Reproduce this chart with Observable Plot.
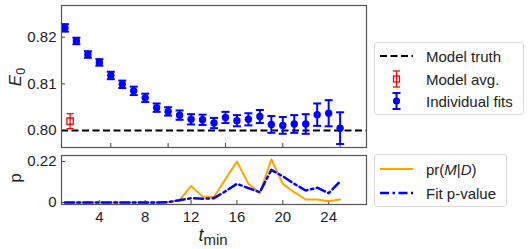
<!DOCTYPE html>
<html>
<head>
<meta charset="utf-8">
<script src="https://cdn.jsdelivr.net/npm/d3@7"></script>
<script src="https://cdn.jsdelivr.net/npm/@observablehq/plot@0.6"></script>
<style>
  html, body { margin: 0; padding: 0; background: #fff; }
  #wrap { position: relative; width: 531px; height: 249px; overflow: hidden;
          font-family: "Liberation Sans", Arial, sans-serif; color: #222; }
  .abs { position: absolute; }
  .rot { transform: translate(-50%, -50%) rotate(-90deg); white-space: nowrap; font-size: 17px; line-height: 1; }
  .xl { transform: translate(-50%, -50%); white-space: nowrap; font-size: 18px; line-height: 1; }
  .sub { font-size: 12.5px; position: relative; top: 4px; }
  .legend { position: absolute; border: 1px solid #d8d8d8; border-radius: 3px; background: #fff; box-sizing: border-box; }
  .entry { position: absolute; left: 0; height: 20px; display: flex; align-items: center; font-size: 15px; white-space: nowrap; }
  .entry svg { display: block; margin-left: 4px; }
  .entry span { position: absolute; left: 51px; }
</style>
</head>
<body>
<div id="wrap">
  <div id="topPanel" class="abs" style="left:0;top:0"></div>
  <div id="botPanel" class="abs" style="left:0;top:150px"></div>
  <div class="abs rot" style="left:15px;top:77px"><i>E</i><span class="sub">0</span></div>
  <div class="abs rot" style="left:15px;top:178px">p</div>
  <div class="abs xl" style="left:213px;top:235px"><i>t</i><span class="sub" style="font-size:15px">min</span></div>

  <div class="legend" style="left:374px;top:42px;width:150px;height:73px">
    <div class="entry" style="top:3px">
      <svg width="38" height="20"><line x1="1" y1="10" x2="34" y2="10" stroke="#000" stroke-width="2" stroke-dasharray="7,3.5"/></svg>
      <span>Model truth</span>
    </div>
    <div class="entry" style="top:26px">
      <svg width="38" height="20"><line x1="17.5" y1="2" x2="17.5" y2="18" stroke="red" stroke-width="1.3"/><line x1="14" y1="2" x2="21" y2="2" stroke="red" stroke-width="1.3"/><line x1="14" y1="18" x2="21" y2="18" stroke="red" stroke-width="1.3"/><rect x="14.5" y="7" width="6" height="6" fill="none" stroke="red" stroke-width="1.3"/></svg>
      <span>Model avg.</span>
    </div>
    <div class="entry" style="top:48px">
      <svg width="38" height="20"><line x1="17.5" y1="2" x2="17.5" y2="18" stroke="blue" stroke-width="2"/><line x1="13.5" y1="2" x2="21.5" y2="2" stroke="blue" stroke-width="2"/><line x1="13.5" y1="18" x2="21.5" y2="18" stroke="blue" stroke-width="2"/><circle cx="17.5" cy="10" r="3.6" fill="blue"/></svg>
      <span>Individual fits</span>
    </div>
  </div>

  <div class="legend" style="left:374px;top:154px;width:133px;height:53px">
    <div class="entry" style="top:4px">
      <svg width="38" height="20"><line x1="1" y1="10" x2="34" y2="10" stroke="orange" stroke-width="2"/></svg>
      <span>pr(<i>M</i>|<i>D</i>)</span>
    </div>
    <div class="entry" style="top:28px">
      <svg width="38" height="20"><line x1="1" y1="10" x2="34" y2="10" stroke="blue" stroke-width="2.5" stroke-dasharray="9,3.5,2.5,3.5"/></svg>
      <span>Fit p-value</span>
    </div>
  </div>
</div>
<script>
// ---- data ----
const tmin = [1,2,3,4,5,6,7,8,9,10,11,12,13,14,15,16,17,18,19,20,21,22,23,24,25];
const E0 = [0.8220,0.8192,0.8163,0.8146,0.8118,0.8099,0.8085,0.8070,0.8049,0.8041,0.8033,0.8024,0.8023,0.8016,0.8028,0.8021,0.8024,0.8030,0.8013,0.8011,0.8014,0.8014,0.8034,0.8037,0.8005];
const E0err = [0.0008,0.0007,0.0007,0.0007,0.0008,0.0008,0.0009,0.0009,0.0009,0.0009,0.0010,0.0011,0.0011,0.0011,0.0012,0.0012,0.0013,0.0014,0.0018,0.0018,0.0019,0.0021,0.0024,0.0028,0.0034];
const modelAvgT = [1.45];
const modelAvg = [0.8020];
const modelAvgErr = [0.0016];
const modelTruth = [0.80];
const prMD = [0,0,0,0,0,0,0,0,0,0.001,0.012,0.088,0.032,0.029,0.125,0.220,0.100,0.050,0.232,0.100,0.055,0.016,0.016,0.006,0.016];
const pValue = [0,0,0,0,0,0,0,0,0,0.002,0.012,0.023,0.020,0.023,0.060,0.100,0.077,0.055,0.175,0.140,0.100,0.064,0.079,0.050,0.113];
const xTicksTop = [5,10,15,20,25];
const xTicksBottom = [4,8,12,16,20,24];
const yTicksTop = [0.80,0.81,0.82];
const yTicksBottom = [0,0.22];

const fits = tmin.map((t,i) => ({t, e: E0[i], lo: E0[i]-E0err[i], hi: E0[i]+E0err[i]}));
const avg = modelAvgT.map((t,i) => ({t, e: modelAvg[i], lo: modelAvg[i]-modelAvgErr[i], hi: modelAvg[i]+modelAvgErr[i]}));
const probs = tmin.map((t,i) => ({t, pr: prMD[i], pv: pValue[i]}));

const cap = { draw(ctx, size) { const r = Math.sqrt(size/Math.PI); ctx.moveTo(-r,0); ctx.lineTo(r,0); } };

const W = 370, ML = 61, MR = 4;
const xDomain = [0.7, 27.3];
const font = { fontFamily: "'Liberation Sans', Arial, sans-serif", fontSize: "15px", color: "#222", background: "transparent", overflow: "visible" };

const topH = 152, topMT = 5, topMB = 5;
const topChart = Plot.plot({
  width: W, height: topH, marginLeft: ML, marginRight: MR, marginTop: topMT, marginBottom: topMB,
  style: font,
  x: { domain: xDomain, axis: null },
  y: { domain: [0.79636, 0.8268] },
  marks: [
    Plot.axisY(yTicksTop, { tickSize: 0, tickPadding: 5, tickFormat: d3.format(".2f"), label: null }),
    Plot.tickY(yTicksTop, { y: d => d, insetRight: W - ML - MR - 4, stroke: "#444" }),
    Plot.tickX(xTicksTop, { x: d => d, insetTop: topH - topMT - topMB - 4, stroke: "#444" }),
    Plot.ruleY(modelTruth, { stroke: "#000", strokeWidth: 2, strokeDasharray: "7,3.5" }),
    Plot.ruleX(avg, { x: "t", y1: "lo", y2: "hi", stroke: "red", strokeWidth: 1.3 }),
    Plot.dot(avg, { x: "t", y: "lo", symbol: cap, r: 3.5, stroke: "red", strokeWidth: 1.3 }),
    Plot.dot(avg, { x: "t", y: "hi", symbol: cap, r: 3.5, stroke: "red", strokeWidth: 1.3 }),
    Plot.dot(avg, { x: "t", y: "e", symbol: "square", r: 3.6, stroke: "red", fill: "none", strokeWidth: 1.3 }),
    Plot.ruleX(fits, { x: "t", y1: "lo", y2: "hi", stroke: "blue", strokeWidth: 2 }),
    Plot.dot(fits, { x: "t", y: "lo", symbol: cap, r: 4, stroke: "blue", strokeWidth: 2 }),
    Plot.dot(fits, { x: "t", y: "hi", symbol: cap, r: 4, stroke: "blue", strokeWidth: 2 }),
    Plot.dot(fits, { x: "t", y: "e", r: 3.7, fill: "blue" }),
    Plot.frame({ stroke: "#555", strokeWidth: 1.2 })
  ]
});
document.getElementById("topPanel").appendChild(topChart);

const botH = 99, botMT = 5, botMB = 45;
const botChart = Plot.plot({
  width: W, height: botH, marginLeft: ML, marginRight: MR, marginTop: botMT, marginBottom: botMB,
  style: font,
  x: { domain: xDomain },
  y: { domain: [-0.011, 0.252] },
  marks: [
    Plot.axisY(yTicksBottom, { tickSize: 0, tickPadding: 5, tickFormat: d => d === 0 ? "0" : d3.format(".2f")(d), label: null }),
    Plot.axisX(xTicksBottom, { tickSize: 0, tickPadding: 7, label: null }),
    Plot.tickY(yTicksBottom, { y: d => d, insetRight: W - ML - MR - 4, stroke: "#444" }),
    Plot.tickX(xTicksBottom, { x: d => d, insetTop: botH - botMT - botMB - 4, stroke: "#444" }),
    Plot.line(probs, { x: "t", y: "pr", stroke: "orange", strokeWidth: 2 }),
    Plot.line(probs, { x: "t", y: "pv", stroke: "blue", strokeWidth: 2.5, strokeDasharray: "9,3.5,2.5,3.5" }),
    Plot.frame({ stroke: "#555", strokeWidth: 1.2 })
  ]
});
document.getElementById("botPanel").appendChild(botChart);
</script>
</body>
</html>
